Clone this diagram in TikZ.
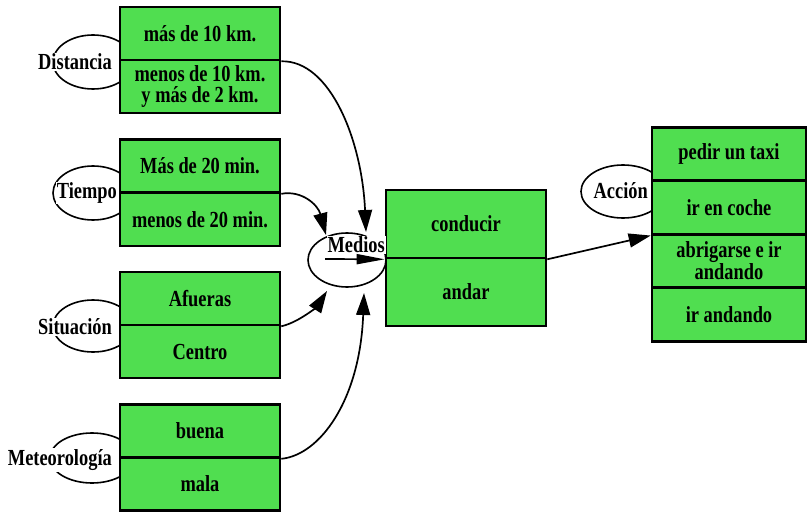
\documentclass[tikz,border=0pt]{standalone}
\usepackage{fontspec}
\setmainfont[FakeStretch=0.8]{Liberation Serif}
\usetikzlibrary{arrows.meta}
\definecolor{cellgreen}{RGB}{80,222,80}
\newcommand{\tagellipse}[3]% center, xdim, ydim
{(#1) ellipse (#2pt and #3pt)
}
\tikzset{
  cell/.style={draw, line width=2.6pt, fill=cellgreen, minimum width=160pt,
    minimum height=53pt, inner sep=0pt, align=center,
    font=\fontsize{23}{21}\selectfont\bfseries},
  tag/.style={fill=white, inner sep=1pt, anchor=east,
    font=\fontsize{23}{21}\selectfont\bfseries},
  link/.style={line width=1.7pt, -{Triangle[length=22pt,width=14pt]}},
}

\begin{document}
\begin{tikzpicture}[x=1pt,y=-1pt]
  \useasboundingbox (0,0) rectangle (808,513);
  % ellipses go first, the boxes hide their right part
  \draw[line width=1.6pt] \tagellipse{93,62}{40}{27};
  \draw[line width=1.6pt] \tagellipse{93,193}{40}{27};
  \draw[line width=1.6pt] \tagellipse{93,326}{40}{26};
  \draw[line width=1.6pt] \tagellipse{92,458}{42}{25};
  \draw[line width=1.6pt] \tagellipse{347,260}{39}{27};
  \draw[line width=1.6pt] \tagellipse{623,191.5}{42}{26.5};

  \node[cell] (dist1) at (200,33.5) {más de 10 km.};
  \node[cell] (dist2) at (200,86.5) {menos de 10 km.\\y más de 2 km.};
  \node[cell] (time1) at (200,166) {Más de 20 min.};
  \node[cell] (time2) at (200,219.5) {menos de 20 min.};
  \node[cell] (site1) at (200,298.5) {Afueras};
  \node[cell] (site2) at (200,351.5) {Centro};
  \node[cell] (wthr1) at (200,431) {buena};
  \node[cell] (wthr2) at (200,484) {mala};

  \node[cell, minimum height=68pt] (cond) at (466,224) {conducir};
  \node[cell, minimum height=68pt] (walk) at (466,292) {andar};

  \node[cell, minimum width=154pt, minimum height=53.5pt] (acc1) at (729,154) {pedir un taxi};
  \node[cell, minimum width=154pt, minimum height=53.5pt] (acc2) at (729,207.5) {ir en coche};
  \node[cell, minimum width=154pt, minimum height=53.5pt] (acc3) at (729,261) {abrigarse e ir\\andando};
  \node[cell, minimum width=154pt, minimum height=53.5pt] (acc4) at (729,314.5) {ir andando};

  \node[tag] (dist) at (113,62) {Distancia};
  \node[tag] (time) at (118,193) {Tiempo};
  \node[tag] (site) at (113,327) {Situación};
  \node[tag] (wthr) at (113,460) {Meteorología};
  \node[tag] (medios) at (386,245) {Medios};
  \node[tag] (accion) at (649,191) {Acción};

  \coordinate (m0) at (325,259);
  \coordinate (m1) at (366,232);
  \coordinate (m2) at (326,235);
  \coordinate (m3) at (327,291);
  \coordinate (m4) at (364,293);
  \draw[link] (dist1.south east) .. controls (330,60) and (362,140) .. (m1);
  \draw[link] (time1.south east) .. controls (302,190) and (318,205) .. (m2);
  \draw[link] (site1.south east) .. controls (300,322) and (318,305) .. (m3);
  \draw[link] (wthr1.south east) .. controls (320,455) and (360,400) .. (m4);
  \draw[link] (cond.south east) -- (acc2.south west);
  \draw[line width=1.7pt, -{Triangle[length=28pt,width=10pt]}] (m0) -- (cond.south west);
\end{tikzpicture}
\end{document}
